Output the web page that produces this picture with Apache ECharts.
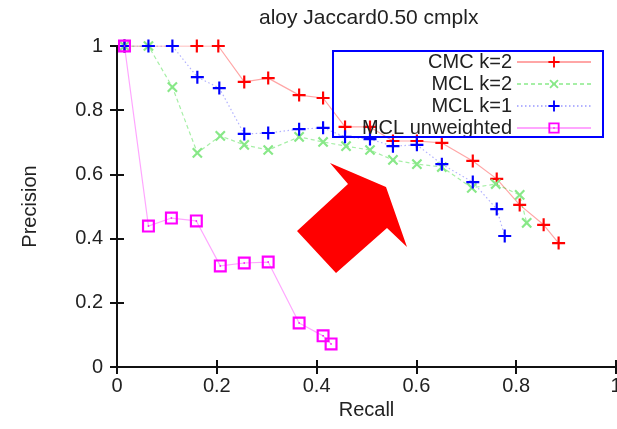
<!DOCTYPE html>
<html>
<head>
<meta charset="utf-8">
<script src="https://cdn.jsdelivr.net/npm/echarts@6/dist/echarts.min.js"></script>
<style>html,body{margin:0;padding:0;background:#fff}#c{width:617px;height:429px}</style>
</head>
<body>
<div id="c"></div>
<script>
const chartTitle = 'aloy Jaccard0.50 cmplx';
const xName = 'Recall';
const yName = 'Precision';
const seriesNames = ['CMC k=2', 'MCL k=2', 'MCL k=1', 'MCL unweighted'];

const cmcK2 = [
  [0.015, 1], [0.160, 1], [0.203, 1], [0.255, 0.888], [0.303, 0.900], [0.365, 0.847],
  [0.413, 0.838], [0.457, 0.748], [0.507, 0.748], [0.553, 0.704], [0.601, 0.704],
  [0.651, 0.698], [0.713, 0.642], [0.761, 0.586], [0.807, 0.505], [0.855, 0.443], [0.885, 0.386]
];
const mclK2 = [
  [0.015, 1], [0.063, 1], [0.111, 0.872], [0.161, 0.667], [0.207, 0.720], [0.255, 0.692],
  [0.303, 0.676], [0.365, 0.717], [0.413, 0.701], [0.459, 0.688], [0.507, 0.676],
  [0.553, 0.645], [0.601, 0.632], [0.651, 0.623], [0.711, 0.558], [0.759, 0.570],
  [0.807, 0.536], [0.821, 0.449]
];
const mclK1 = [
  [0.015, 1], [0.063, 1], [0.111, 1], [0.161, 0.903], [0.205, 0.869], [0.255, 0.726],
  [0.303, 0.729], [0.365, 0.741], [0.413, 0.745], [0.457, 0.717], [0.507, 0.710],
  [0.553, 0.688], [0.601, 0.692], [0.651, 0.632], [0.713, 0.576], [0.761, 0.492], [0.777, 0.408]
];
const mclUnweighted = [
  [0.015, 1], [0.063, 0.439], [0.109, 0.464], [0.159, 0.455], [0.207, 0.315],
  [0.255, 0.324], [0.303, 0.327], [0.365, 0.137], [0.413, 0.097], [0.429, 0.072]
];

const PLUS = 'path://M5,0h2v5h5v2h-5v5h-2v-5h-5v-2h5z';
const SQUARE = 'path://M0,0H12V12H0Z M2,2V10H10V2Z M5.3,5.3h1.4v1.4h-1.4z';
const FONT = 'Liberation Sans';

const chart = echarts.init(document.getElementById('c'), null, {renderer: 'canvas'});

const frameLine = {show: true, lineStyle: {color: '#111', width: 2}};
const tickIn = {show: true, inside: true, length: 7, lineStyle: {color: '#111', width: 2}};

chart.setOption({
  animation: false,
  backgroundColor: '#fff',
  title: {
    text: chartTitle, left: 254, top: 3,
    textStyle: {fontFamily: FONT, fontSize: 21, fontWeight: 'normal', color: '#222'}
  },
  grid: {left: 117, right: 1, top: 46, bottom: 62, containLabel: false, outerBoundsMode: 'none'},
  legend: {
    orient: 'vertical', align: 'right', right: 25, top: 52, padding: 0,
    itemWidth: 74, itemHeight: 14, itemGap: 2,
    textStyle: {fontFamily: FONT, fontSize: 20, color: '#222', lineHeight: 20},
    data: seriesNames
  },
  xAxis: [{
    type: 'value', min: 0, max: 1, interval: 0.2, position: 'bottom',
    name: xName, nameLocation: 'middle', nameGap: 32,
    nameTextStyle: {fontFamily: FONT, fontSize: 20, color: '#222'},
    axisLine: frameLine, axisTick: tickIn, splitLine: {show: false},
    axisLabel: {fontFamily: FONT, fontSize: 20, color: '#222', margin: 9}
  }, {
    type: 'value', min: 0, max: 1, interval: 0.2, position: 'top',
    axisLine: frameLine, axisTick: tickIn, splitLine: {show: false},
    axisLabel: {show: false}
  }],
  yAxis: [{
    type: 'value', min: 0, max: 1, interval: 0.2, position: 'left',
    name: yName, nameLocation: 'middle', nameGap: 77,
    nameTextStyle: {fontFamily: FONT, fontSize: 20, color: '#222'},
    axisLine: frameLine, axisTick: tickIn, splitLine: {show: false},
    axisLabel: {fontFamily: FONT, fontSize: 20, color: '#222', margin: 14}
  }, {
    type: 'value', min: 0, max: 1, interval: 0.2, position: 'right',
    axisLine: frameLine, axisTick: tickIn, splitLine: {show: false},
    axisLabel: {show: false}
  }],
  graphic: [
    {type: 'rect', shape: {x: 333, y: 51, width: 270, height: 86},
     style: {fill: 'none', stroke: '#0000ff', lineWidth: 2}, z: 100},
    {type: 'polygon', shape: {points: [[386, 187], [407, 247], [387, 228], [336, 273], [297, 231], [348, 184], [330, 163]]},
     style: {fill: '#ff0000'}, z: 100}
  ],
  series: [
    {name: seriesNames[0], type: 'line', data: cmcK2, symbol: PLUS, symbolSize: 13,
     itemStyle: {color: '#ff0000'}, lineStyle: {color: 'rgba(255,0,0,0.35)', width: 1.2}},
    {name: seriesNames[1], type: 'line', data: mclK2, symbol: PLUS, symbolSize: 13, symbolRotate: 45,
     itemStyle: {color: '#88e888'}, lineStyle: {color: 'rgba(0,210,0,0.35)', width: 1.2, type: [4, 3]}},
    {name: seriesNames[2], type: 'line', data: mclK1, symbol: PLUS, symbolSize: 13,
     itemStyle: {color: '#0000ff'}, lineStyle: {color: 'rgba(0,0,255,0.3)', width: 1.2, type: [1.5, 2.5]}},
    {name: seriesNames[3], type: 'line', data: mclUnweighted, symbol: SQUARE, symbolSize: 13,
     itemStyle: {color: '#ff00ff'}, lineStyle: {color: 'rgba(255,0,255,0.35)', width: 1.2}}
  ]
});
</script>
</body>
</html>
